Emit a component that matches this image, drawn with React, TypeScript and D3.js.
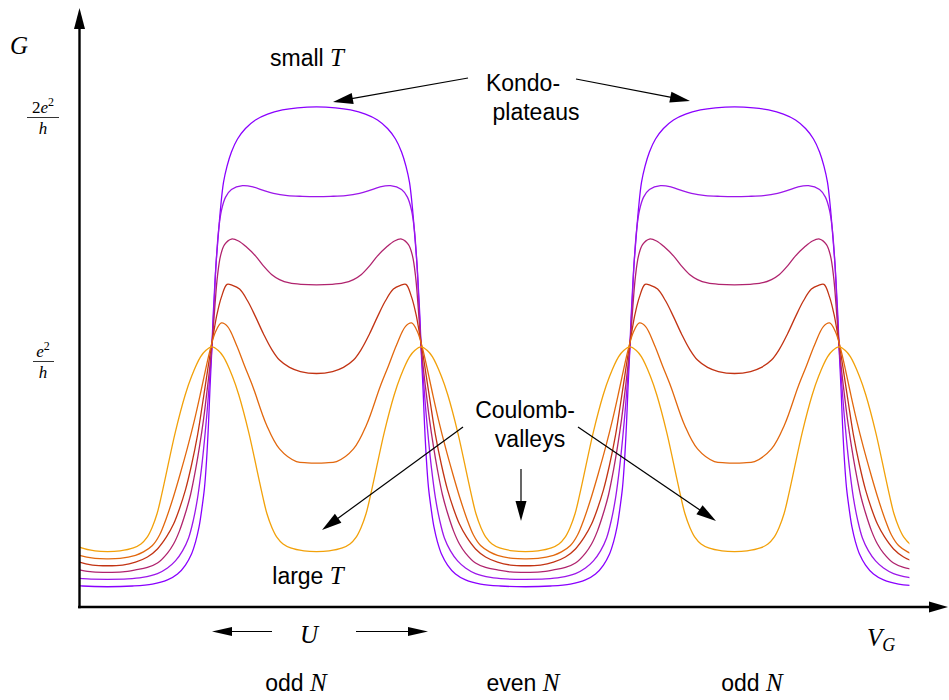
import React from 'react';
import * as d3 from 'd3';

type Pt = [number, number];

// Half-period conductance profiles: G in units of e^2/h against gate voltage V.
// V = 0 is the middle of a Coulomb valley (even N), V = 1 the middle of the
// neighbouring odd-N region, V = 0.5 the charge-degeneracy point.
// T1 is the lowest temperature, T6 the highest.
const profileT1: Pt[] = [
  [0, 0.083], [0.12, 0.086], [0.215, 0.094], [0.287, 0.111], [0.335, 0.135], [0.373, 0.172],
  [0.402, 0.217], [0.421, 0.266], [0.438, 0.328], [0.452, 0.406], [0.464, 0.488], [0.474, 0.602],
  [0.483, 0.746], [0.49, 0.889], [0.498, 1.033], [0.505, 1.184], [0.512, 1.299], [0.519, 1.402],
  [0.529, 1.512], [0.541, 1.635], [0.555, 1.74], [0.572, 1.807], [0.593, 1.865], [0.622, 1.918],
  [0.66, 1.961], [0.708, 1.996], [0.766, 2.02], [0.837, 2.037], [0.909, 2.046], [1, 2.05],
];
const profileT2: Pt[] = [
  [0, 0.1135], [0.096, 0.115], [0.167, 0.121], [0.239, 0.137], [0.287, 0.16], [0.325, 0.189],
  [0.359, 0.23], [0.388, 0.283], [0.411, 0.357], [0.431, 0.447], [0.45, 0.57], [0.464, 0.684],
  [0.478, 0.816], [0.49, 0.951], [0.5, 1.07], [0.51, 1.24], [0.519, 1.4], [0.531, 1.54],
  [0.545, 1.625], [0.565, 1.68], [0.593, 1.711], [0.646, 1.727], [0.699, 1.721], [0.746, 1.707],
  [0.794, 1.695], [0.861, 1.686], [0.933, 1.683], [1, 1.682],
];
const profileT3: Pt[] = [
  [0, 0.142], [0.072, 0.144], [0.134, 0.152], [0.191, 0.162], [0.239, 0.18], [0.287, 0.221],
  [0.316, 0.258], [0.344, 0.311], [0.373, 0.385], [0.397, 0.459], [0.421, 0.561], [0.44, 0.656],
  [0.459, 0.766], [0.478, 0.898], [0.493, 1.012], [0.505, 1.13], [0.514, 1.235], [0.526, 1.355],
  [0.541, 1.44], [0.56, 1.485], [0.593, 1.508], [0.627, 1.5], [0.665, 1.475], [0.708, 1.439],
  [0.746, 1.398], [0.785, 1.363], [0.823, 1.342], [0.871, 1.328], [0.928, 1.322], [1, 1.32],
];
const profileT4: Pt[] = [
  [0, 0.169], [0.072, 0.172], [0.134, 0.184], [0.191, 0.205], [0.239, 0.238], [0.282, 0.287],
  [0.316, 0.34], [0.344, 0.402], [0.373, 0.48], [0.402, 0.582], [0.431, 0.705], [0.455, 0.835],
  [0.478, 0.965], [0.497, 1.07], [0.51, 1.135], [0.524, 1.2], [0.545, 1.27], [0.572, 1.322],
  [0.598, 1.318], [0.632, 1.303], [0.67, 1.255], [0.708, 1.19], [0.746, 1.12], [0.785, 1.057],
  [0.823, 1.012], [0.871, 0.982], [0.923, 0.965], [1, 0.957],
];
const profileT5: Pt[] = [
  [0, 0.197], [0.06, 0.199], [0.134, 0.212], [0.172, 0.226], [0.215, 0.252], [0.249, 0.295],
  [0.282, 0.365], [0.316, 0.453], [0.349, 0.549], [0.383, 0.654], [0.416, 0.766], [0.445, 0.876],
  [0.469, 0.972], [0.493, 1.061], [0.517, 1.128], [0.545, 1.164], [0.574, 1.15], [0.617, 1.074],
  [0.656, 0.988], [0.696, 0.902], [0.761, 0.746], [0.823, 0.648], [0.904, 0.596], [0.957, 0.591],
  [1, 0.59],
];
const profileT6: Pt[] = [
  [0, 0.227], [0.06, 0.23], [0.124, 0.242], [0.16, 0.258], [0.189, 0.285], [0.213, 0.325],
  [0.237, 0.382], [0.257, 0.452], [0.277, 0.53], [0.324, 0.715], [0.372, 0.87], [0.402, 0.945],
  [0.445, 1.025], [0.471, 1.052], [0.5, 1.066], [0.529, 1.052], [0.555, 1.025], [0.598, 0.945],
  [0.628, 0.87], [0.676, 0.715], [0.723, 0.53], [0.743, 0.452], [0.763, 0.382], [0.787, 0.325],
  [0.811, 0.285], [0.84, 0.258], [0.876, 0.242], [0.94, 0.23], [1, 0.227],
];

const profiles = [profileT1, profileT2, profileT3, profileT4, profileT5, profileT6];
const curveColors = ['#8a00ff', '#9c16ea', '#b0246e', '#c23414', '#e2680e', '#f2a10a'];

// Odd-N plateau centres; each profile is mirrored about these.
const plateauCentres = [-1, 1, 3];
// Visible gate-voltage window.
const vWindow: [number, number] = [-0.136, 3.837];

const yTicks = [1, 2];
const yTickNumerators = ['', '2'];

const W = 949;
const H = 700;

const SANS = '"Liberation Sans", Arial, sans-serif';
const SERIF = '"Liberation Serif", "Times New Roman", serif';

function expand(profile: Pt[]): Pt[] {
  const pts: Pt[] = [];
  for (const c of plateauCentres) {
    for (const [v, g] of profile) pts.push([c - 1 + v, g]);
    for (let i = profile.length - 2; i >= 0; i--) pts.push([c + 1 - profile[i][0], profile[i][1]]);
  }
  pts.sort((a, b) => a[0] - b[0]);
  return pts.filter((p, i) => i === 0 || p[0] !== pts[i - 1][0]);
}

function Arrow({ x1, y1, x2, y2, len = 18, half = 5, width = 1.2 }: {
  x1: number; y1: number; x2: number; y2: number; len?: number; half?: number; width?: number;
}) {
  const dx = x2 - x1;
  const dy = y2 - y1;
  const L = Math.hypot(dx, dy);
  const ux = dx / L;
  const uy = dy / L;
  const bx = x2 - ux * len;
  const by = y2 - uy * len;
  const px = -uy * half;
  const py = ux * half;
  return (
    <g>
      <line x1={x1} y1={y1} x2={bx + ux} y2={by + uy} stroke="#000" strokeWidth={width} />
      <polygon points={`${x2},${y2} ${bx + px},${by + py} ${bx - px},${by - py}`} fill="#000" />
    </g>
  );
}

export default function App() {
  const x = d3.scaleLinear().domain([0, 4]).range([107.5, 943.5]);
  const y = d3.scaleLinear().domain([0, 2]).range([607, 119]);

  const line = d3
    .line<Pt>()
    .x((d) => x(d[0]))
    .y((d) => y(d[1]))
    .curve(d3.curveCatmullRom.alpha(0.5));

  const xl = x(vWindow[0]);
  const xr = x(vWindow[1]);

  const axisX = 79.5;
  const axisY = 607;
  const labelSize = 23;
  const mathSize = 25;

  return (
    <svg
      width={W}
      height={H}
      viewBox={`0 0 ${W} ${H}`}
      style={{ position: 'absolute', left: 0, top: 0, background: '#fff' }}
    >
      <defs>
        <clipPath id="plot-clip">
          <rect x={xl} y={0} width={xr - xl} height={H} />
        </clipPath>
      </defs>

      <g clipPath="url(#plot-clip)" fill="none">
        {profiles.map((p, i) => (
          <path key={i} d={line(expand(p)) ?? ''} stroke={curveColors[i]} strokeWidth={1.3} />
        ))}
      </g>

      {/* axes */}
      <Arrow x1={axisX} y1={axisY + 1.2} x2={axisX} y2={8} len={21} half={5.5} width={2.4} />
      <Arrow x1={78} y1={axisY} x2={948} y2={axisY} len={19} half={5.5} width={2.4} />

      {/* y tick labels as fractions */}
      {yTicks.map((t, i) => {
        const yy = y(t) - 1.5;
        return (
          <g key={t} fontFamily={SERIF} fontSize={17} textAnchor="middle">
            <text x={43} y={yy - 5}>
              {yTickNumerators[i]}
              <tspan fontStyle="italic">e</tspan>
              <tspan dy={-7} fontSize={12}>2</tspan>
            </text>
            <line x1={t === 2 ? 27 : 33} x2={t === 2 ? 59 : 54} y1={yy} y2={yy} stroke="#000" strokeWidth={0.8} />
            <text x={43} y={yy + 16} fontStyle="italic">h</text>
          </g>
        );
      })}

      <text x={10} y={54} fontFamily={SERIF} fontStyle="italic" fontSize={mathSize}>G</text>

      {/* x axis label */}
      <text x={867} y={646} fontFamily={SERIF} fontStyle="italic" fontSize={mathSize}>
        V<tspan dy={5} fontSize={18}>G</tspan>
      </text>

      {/* temperature labels */}
      <text x={307} y={66} textAnchor="middle" fontFamily={SANS} fontSize={labelSize}>
        small <tspan fontFamily={SERIF} fontStyle="italic" fontSize={mathSize}>T</tspan>
      </text>
      <text x={308} y={584} textAnchor="middle" fontFamily={SANS} fontSize={labelSize}>
        large <tspan fontFamily={SERIF} fontStyle="italic" fontSize={mathSize}>T</tspan>
      </text>

      {/* Kondo plateaus */}
      <text x={523} y={91} textAnchor="middle" fontFamily={SANS} fontSize={labelSize}>Kondo-</text>
      <text x={536} y={120} textAnchor="middle" fontFamily={SANS} fontSize={labelSize}>plateaus</text>
      <Arrow x1={468} y1={78} x2={333} y2={102} len={20} half={5.5} />
      <Arrow x1={576} y1={79} x2={690} y2={101} len={20} half={5.5} />

      {/* Coulomb valleys */}
      <text x={525} y={418} textAnchor="middle" fontFamily={SANS} fontSize={labelSize}>Coulomb-</text>
      <text x={530} y={447} textAnchor="middle" fontFamily={SANS} fontSize={labelSize}>valleys</text>
      <Arrow x1={463} y1={427} x2={322} y2={530} len={20} half={5.5} />
      <Arrow x1={521} y1={469} x2={521} y2={521} len={20} half={5.5} />
      <Arrow x1={578} y1={427} x2={716} y2={521} len={20} half={5.5} />

      {/* charging energy */}
      <Arrow x1={272} y1={631.5} x2={212} y2={631.5} len={20} half={4.5} />
      <Arrow x1={356} y1={631.5} x2={428} y2={631.5} len={20} half={4.5} />
      <text x={309} y={643} textAnchor="middle" fontFamily={SERIF} fontStyle="italic" fontSize={mathSize}>U</text>

      {/* electron number parity */}
      {[
        { cx: 296, label: 'odd' },
        { cx: 523, label: 'even' },
        { cx: 752, label: 'odd' },
      ].map((d, i) => (
        <text key={i} x={d.cx} y={691} textAnchor="middle" fontFamily={SANS} fontSize={labelSize}>
          {d.label} <tspan fontFamily={SERIF} fontStyle="italic" fontSize={mathSize}>N</tspan>
        </text>
      ))}
    </svg>
  );
}
